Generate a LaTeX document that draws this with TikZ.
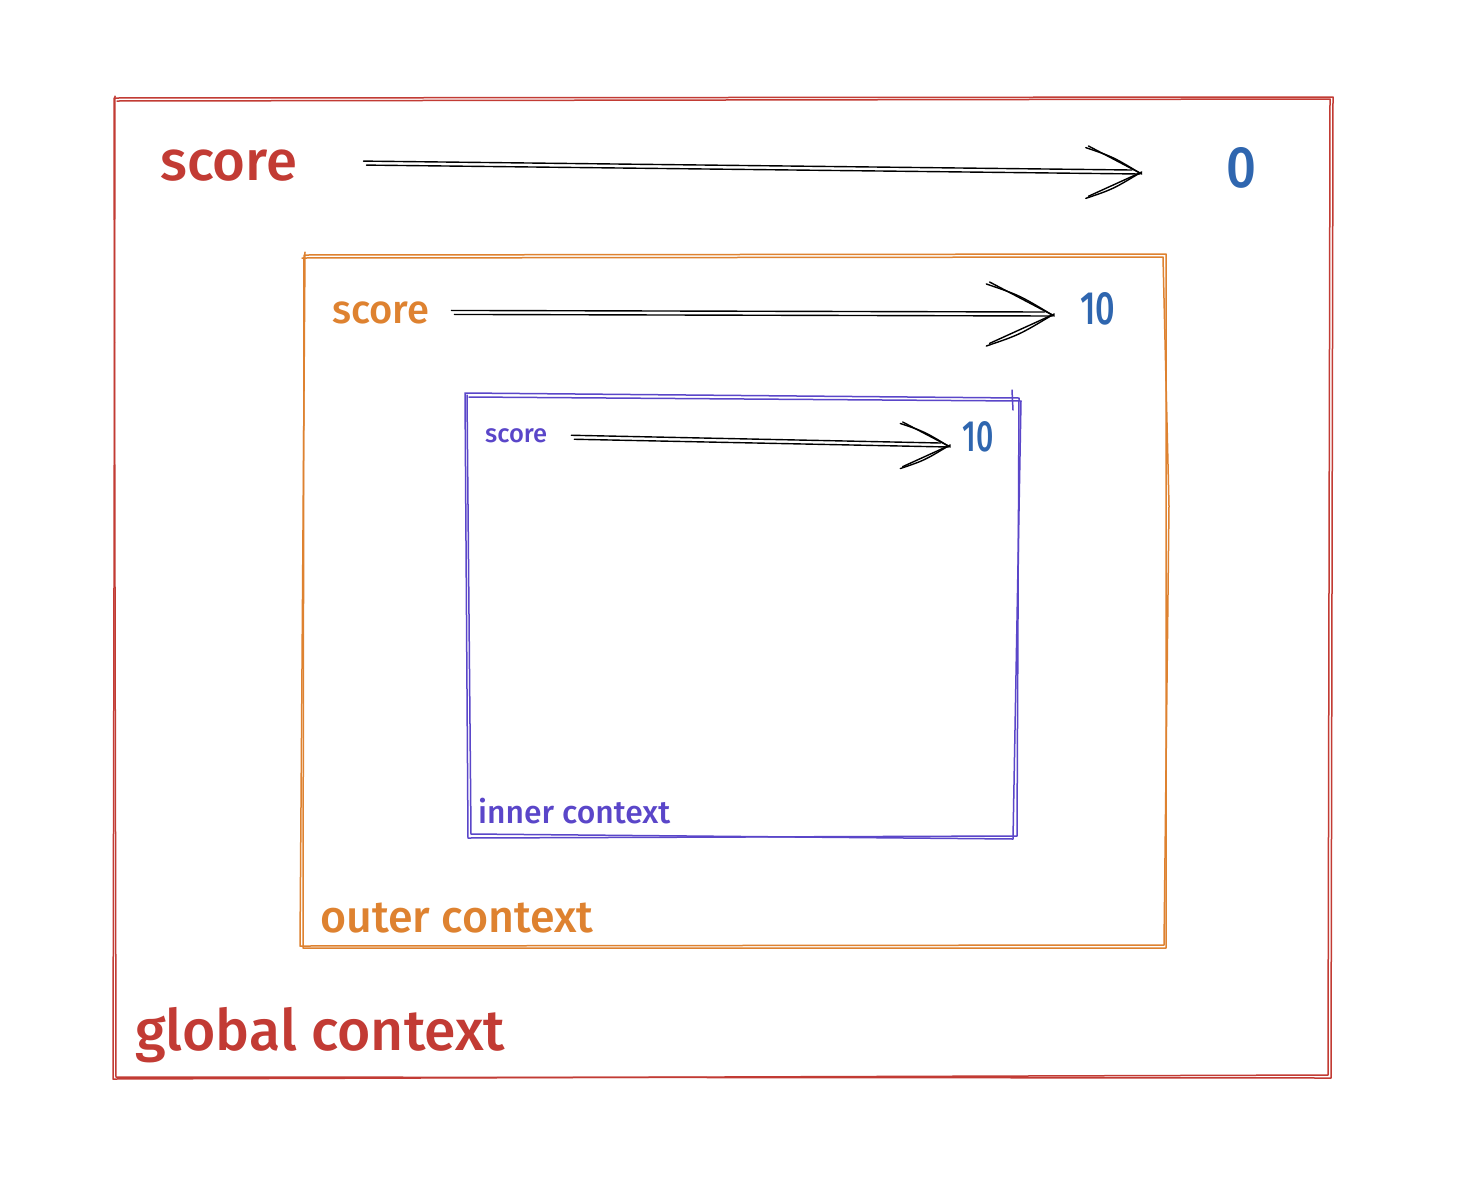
\documentclass[tikz,border=0pt]{standalone}
\usepackage{fontspec}
\setmainfont{Fira Sans}[BoldFont={Fira Sans Medium}]
\usetikzlibrary{calc}
\definecolor{ctxred}{HTML}{C23B34}
\definecolor{ctxorange}{HTML}{DE8230}
\definecolor{ctxpurple}{HTML}{5A46C9}
\definecolor{valblue}{HTML}{2F66AF}

% two loose strokes of a near-horizontal arrow, with an open V head
\newcommand{\sketcharrow}[3]{% start, end, head size
  \draw[arrowline] ($(#1)+(0,-2)$) -- ($(#2)+(-8,-3)$);
  \draw[arrowline] ($(#1)+(3,2)$) -- ($(#2)+(0,1)$);
  \draw[arrowline] ($(#2)+(-#3,-0.47*#3)$) .. controls ($(#2)+(-0.5*#3,-0.3*#3)$) .. (#2);
  \draw[arrowline] ($(#2)+(-0.95*#3,-0.5*#3)$) -- ($(#2)+(2,1)$);
  \draw[arrowline] ($(#2)+(-#3,0.47*#3)$) .. controls ($(#2)+(-0.5*#3,0.3*#3)$) .. (#2);
  \draw[arrowline] ($(#2)+(-0.95*#3,0.43*#3)$) -- ($(#2)+(2,-1)$);
}

\begin{document}
\begin{tikzpicture}[x=1pt,y=-1pt,line join=round,line cap=round,
  arrowline/.style={draw=black,line width=1.4pt},
  redbox/.style={draw=ctxred,line width=1.5pt},
  orangebox/.style={draw=ctxorange,line width=1.5pt},
  purplebox/.style={draw=ctxpurple,line width=1.5pt},
  label/.style={inner sep=0pt,anchor=base west,font=\bfseries},
  value/.style={inner sep=0pt,anchor=center,text=valblue,font=\bfseries}]
\useasboundingbox[fill=white] (0,0) rectangle (1468,1192);

% global context frame
\draw[redbox] (114,98) -- (1333,97) -- (1331,1078) -- (116,1077) -- cycle;
\draw[redbox] (117,101) -- (1330,99) -- (1328,1075) -- (113,1079) -- (115,96);

% outer context frame
\draw[orangebox] (304,255) -- (1166,254) -- (1166,948) -- (303,948) -- cycle;
\draw[orangebox] (302,258) -- (1163,257) -- (1169,506) -- (1164,945) -- (300,946) -- (305,252);

% inner context frame
\draw[purplebox] (465,393) -- (1019,398) -- (1017,836) -- (468,838) -- cycle;
\draw[purplebox] (469,397) -- (1021,401) -- (1013,839) -- (471,834) -- (467,395);
\draw[purplebox] (1012,390) -- (1013,410);

% variable names
\node[label,text=ctxred] (gname) at (160,180) {\resizebox{137pt}{!}{score}};
\node[label,text=ctxorange] (oname) at (332,323) {\resizebox{97pt}{!}{score}};
\node[label,text=ctxpurple] (iname) at (485,442) {\resizebox{62pt}{!}{score}};

% values
\node[value] (gval) at (1241,168) {\resizebox{30pt}{40pt}{0}};
\node[value] (oval) at (1098,309) {\resizebox{35pt}{32pt}{10}};
\node[value] (ival) at (978,437) {\resizebox{31pt}{30pt}{10}};

% context labels
\node[label,text=ctxpurple] (ilabel) at (478,823) {\resizebox{192pt}{!}{inner context}};
\node[label,text=ctxorange] (olabel) at (320,932) {\resizebox{273pt}{!}{outer context}};
\node[label,text=ctxred] (glabel) at (135,1050) {\resizebox{370pt}{!}{global context}};

% bindings
\coordinate (ga) at ($(gname.east)+(66,-2)$);
\coordinate (gb) at ($(gval.west)+(-86,5)$);
\sketcharrow{ga}{gb}{54}
\coordinate (oa) at ($(oname.east)+(22,0)$);
\coordinate (ob) at ($(oval.west)+(-28,6)$);
\sketcharrow{oa}{ob}{66}
\coordinate (ia) at ($(iname.east)+(24,2)$);
\coordinate (ib) at ($(ival.west)+(-14,9)$);
\sketcharrow{ia}{ib}{48}
\end{tikzpicture}
\end{document}
